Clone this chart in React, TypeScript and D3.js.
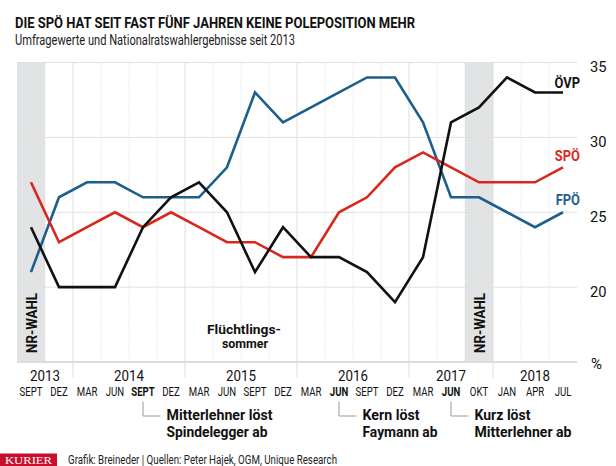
import React from "react";
import * as d3 from "d3";

const months = ["SEPT","DEZ","MAR","JUN","SEPT","DEZ","MAR","JUN","SEPT","DEZ","MAR","JUN","SEPT","DEZ","MAR","JUN","OKT","JAN","APR","JUL"];
const boldMonths = [4, 11, 15];
const oevp = [24,20,20,20,24,26,27,25,21,24,22,22,21,19,22,31,32,34,33,33];
const spoe = [27,23,24,25,24,25,24,23,23,22,22,25,26,28,29,28,27,27,27,28];
const fpoe = [21,26,27,27,26,26,26,28,33,31,32,33,34,34,31,26,26,25,24,25];
const years = [
  { label: "2013", from: 0, to: 1 },
  { label: "2014", from: 2, to: 5 },
  { label: "2015", from: 6, to: 9 },
  { label: "2016", from: 10, to: 13 },
  { label: "2017", from: 14, to: 16 },
  { label: "2018", from: 17, to: 19 },
];
const electionIdx = [0, 16];
const yTicks = [20, 25, 30, 35];
const events = [
  { idx: 4, lines: ["Mitterlehner löst", "Spindelegger ab"], widths: [106, 101] },
  { idx: 11, lines: ["Kern löst", "Faymann ab"], widths: [57, 75] },
  { idx: 15, lines: ["Kurz löst", "Mitterlehner ab"], widths: [56, 97] },
];

const BLUE = "#1d5f8c";
const RED = "#d8281d";
const BLACK = "#111111";
const FONT = "Roboto, 'Liberation Sans', sans-serif";

function T(props: any) {
  const { x, y, sx = 1, anchor = "start", size = 12, weight = 400, fill = "#111", len, children } = props;
  if (len) {
    return (
      <text x={x} y={y} textAnchor={anchor} fontSize={size} fontWeight={weight} fill={fill}
        fontFamily={FONT} textLength={len} lengthAdjust="spacingAndGlyphs">{children}</text>
    );
  }
  return (
    <text transform={`translate(${x},${y}) scale(${sx},1)`} textAnchor={anchor} fontSize={size}
      fontWeight={weight} fill={fill} fontFamily={FONT}>{children}</text>
  );
}

export default function App() {
  const W = 616, H = 466;
  const left = 17, right = 577, top = 62.5, bottom = 362;
  const x = d3.scaleBand<number>().domain(d3.range(months.length)).range([left, right]).padding(0);
  const bw = x.bandwidth();
  const cx = (i: number) => (x(i) as number) + bw / 2;
  const y = d3.scaleLinear().domain([15, 35]).range([bottom, top]);
  const line = d3.line<number>().x((_, i) => cx(i)).y((d) => y(d));
  const yearBounds = new Set(years.slice(1).map((yr) => yr.from));

  return (
    <svg width={W} height={H} style={{ position: "absolute", left: 0, top: 0, background: "#fff" }}>
      <rect width={W} height={H} fill="#fff" />
      {/* title */}
      <T x={15} y={28.3} size={15.5} weight={700} len={400}>DIE SPÖ HAT SEIT FAST FÜNF JAHREN KEINE POLEPOSITION MEHR</T>
      <T x={15} y={44.5} size={14.5} weight={400} len={280} fill="#222">Umfragewerte und Nationalratswahlergebnisse seit 2013</T>

      {/* election bands */}
      {electionIdx.map((i) => (
        <rect key={"b" + i} x={x(i)} y={top} width={bw} height={bottom - top} fill="#e2e3e5" />
      ))}

      {/* horizontal grid */}
      {yTicks.map((t) => (
        <line key={"h" + t} x1={left} x2={right} y1={y(t)} y2={y(t)} stroke="#e0e0e0" strokeWidth={1} />
      ))}
      {/* vertical grid */}
      {d3.range(1, months.length).map((i) => {
        const xx = x(i) as number;
        const isYear = yearBounds.has(i);
        return isYear ? (
          <line key={"v" + i} x1={xx} x2={xx} y1={top} y2={378} stroke="#dedede" strokeWidth={1} />
        ) : (
          <line key={"v" + i} x1={xx} x2={xx} y1={top} y2={bottom} stroke="#d6d6d6" strokeWidth={1} strokeDasharray="1,2" />
        );
      })}
      <line x1={left} x2={right} y1={bottom} y2={bottom} stroke="#dcdcdc" strokeWidth={2} />

      {/* NR-WAHL labels */}
      {electionIdx.map((i) => (
        <g key={"n" + i} transform={`translate(${cx(i) + 5.5},353) rotate(-90)`}>
          <T x={0} y={0} size={15} weight={700} len={60}>NR-WAHL</T>
        </g>
      ))}

      {/* Flüchtlingssommer */}
      <T x={244} y={333.5} size={13.5} weight={700} len={74} anchor="middle">Flüchtlings-</T>
      <T x={245} y={348} size={13.5} weight={700} len={46} anchor="middle">sommer</T>

      {/* lines */}
      <path d={line(fpoe) as string} fill="none" stroke={BLUE} strokeWidth={2.6} strokeLinejoin="miter" />
      <path d={line(spoe) as string} fill="none" stroke={RED} strokeWidth={2.6} strokeLinejoin="miter" />
      <path d={line(oevp) as string} fill="none" stroke={BLACK} strokeWidth={2.6} strokeLinejoin="miter" />

      {/* series labels */}
      <T x={580} y={87.5} size={15} weight={700} sx={0.86} anchor="end" fill={BLACK}>ÖVP</T>
      <T x={580} y={160.7} size={15} weight={700} sx={0.86} anchor="end" fill={RED}>SPÖ</T>
      <T x={580} y={205} size={15} weight={700} sx={0.86} anchor="end" fill={BLUE}>FPÖ</T>

      {/* y ticks */}
      {yTicks.map((t) => (
        <T key={"yt" + t} x={590} y={y(t) + 9.5} size={15.5} sx={0.95}>{t}</T>
      ))}
      <T x={591} y={368.5} size={15}>%</T>

      {/* x axis labels */}
      {years.map((yr) => {
        const c = ((x(yr.from) as number) + (x(yr.to) as number) + bw) / 2;
        return <T key={yr.label} x={c} y={381} size={15} sx={0.89} anchor="middle">{yr.label}</T>;
      })}
      {months.map((m, i) => (
        <T key={"m" + i} x={cx(i)} y={395.5} size={13} sx={0.74} anchor="middle"
          weight={boldMonths.includes(i) ? 700 : 400}>{m}</T>
      ))}

      {/* events */}
      {events.map((ev) => {
        const xx = cx(ev.idx);
        return (
          <g key={"e" + ev.idx}>
            <polyline points={`${xx},401.5 ${xx},416 ${xx + 17.5},416`} fill="none" stroke="#9a9a9a" strokeWidth={1} />
            <T x={xx + 23.5} y={420} size={14.5} weight={700} len={ev.widths[0]}>{ev.lines[0]}</T>
            <T x={xx + 23.5} y={436.5} size={14.5} weight={700} len={ev.widths[1]}>{ev.lines[1]}</T>
          </g>
        );
      })}

      {/* footer */}
      <rect x={0} y={453.5} width={57} height={12.5} fill="#c8102e" />
      <text x={5} y={464} fontSize={11} fontFamily="'Liberation Serif', serif" fill="#fff" textLength={47} lengthAdjust="spacingAndGlyphs">KURIER</text>
      <T x={68} y={463.5} size={12} len={269} fill="#222">Grafik: Breineder | Quellen: Peter Hajek, OGM, Unique Research</T>
    </svg>
  );
}
